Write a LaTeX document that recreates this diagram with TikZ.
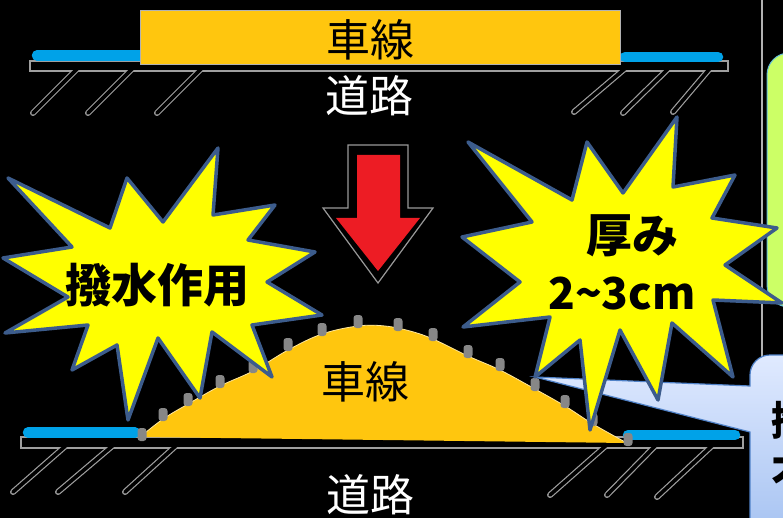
\documentclass[tikz,border=0pt]{standalone}
\usepackage{fontspec}
\setmainfont{Noto Sans CJK JP}
\definecolor{lane}{RGB}{255,198,14}
\definecolor{burst}{RGB}{255,255,0}
\definecolor{burstline}{RGB}{60,92,140}
\definecolor{curb}{RGB}{0,162,232}
\definecolor{arrowred}{RGB}{237,28,36}
\definecolor{noteg}{RGB}{204,255,102}
\definecolor{notegline}{RGB}{100,190,215}
\definecolor{calltop}{RGB}{224,234,255}
\definecolor{callbottom}{RGB}{168,196,242}
\definecolor{callline}{RGB}{80,130,200}
\definecolor{bead}{RGB}{135,135,135}

\begin{document}
\begin{tikzpicture}[x=1pt,y=-1pt,
        hatchedge/.style={draw=gray!75,line width=6pt,line cap=round},
        hatchcore/.style={draw=black,line width=3.6pt,line cap=round},
        curbline/.style={draw=curb,line width=10.5pt,line cap=round},
        burststar/.style={fill=burst,draw=burstline,line width=3.5pt,line join=round},
        roadtext/.style={font=\fontsize{44}{48}\selectfont,inner sep=0pt},
        bursttext/.style={font=\fontsize{46}{50}\selectfont\bfseries,inner sep=0pt,text=black}]
                \useasboundingbox (0,0) rectangle (783,518);
                \clip (0,0) rectangle (783,518);
                \fill[black] (0,0) rectangle (783,518);

                \draw[gray!60,line width=1.2pt] (762,0) -- (762,360);
                \draw[fill=noteg,draw=notegline,line width=1pt,rounded corners=22pt] (767,53) rectangle (830,307);

                \fill[gray!75] (29,60) rectangle (729,72);
                \draw[hatchedge] (80,66) -- (33,113);
                \draw[hatchedge] (135,66) -- (88,113);
                \draw[hatchedge] (204,66) -- (157,113);
                \draw[hatchedge] (628,66) -- (574,112);
                \draw[hatchedge] (671,66) -- (623,113);
                \draw[hatchedge] (712,66) -- (673,112);
                \fill[black] (31,62) rectangle (727,70);
                \draw[hatchcore] (80,66) -- (33,113);
                \draw[hatchcore] (135,66) -- (88,113);
                \draw[hatchcore] (204,66) -- (157,113);
                \draw[hatchcore] (628,66) -- (574,112);
                \draw[hatchcore] (671,66) -- (623,113);
                \draw[hatchcore] (712,66) -- (673,112);

                \draw[curbline] (37,55.5) -- (140,55.5);
                \draw[curbline] (625,57) -- (718,57);
                \draw[fill=lane,draw=gray!60,line width=0.8pt] (140,10) rectangle (620,64);
                \node[roadtext] (laneA) at (370,40) {車線};
                \node[roadtext,text=white] (roadA) at (369,96) {道路};

                \draw[gray!80,line width=1.2pt,fill=black] (348,145) -- (408,145) -- (408,208) -- (433,208)
                        -- (378,283) -- (323,208) -- (348,208) -- cycle;
                \fill[arrowred] (357,155) -- (400,155) -- (400,218) -- (420,218) -- (378,271) -- (336,218)
                        -- (357,218) -- cycle;

                \fill[gray!75] (20,436) rectangle (744,449);
                \draw[hatchedge] (70,442) -- (13,492);
                \draw[hatchedge] (117,442) -- (58,492);
                \draw[hatchedge] (180,442) -- (125,492);
                \draw[hatchedge] (610,442) -- (550,495);
                \draw[hatchedge] (659,442) -- (607,495);
                \draw[hatchedge] (716,442) -- (657,497);
                \fill[black] (22,438) rectangle (742,447);
                \draw[hatchcore] (70,442) -- (13,492);
                \draw[hatchcore] (117,442) -- (58,492);
                \draw[hatchcore] (180,442) -- (125,492);
                \draw[hatchcore] (610,442) -- (550,495);
                \draw[hatchcore] (659,442) -- (607,495);
                \draw[hatchcore] (716,442) -- (657,497);

                \draw[curbline] (28,432.5) -- (135,432.5);
                \draw[curbline] (628,435) -- (735,435);
                \fill[lane] plot[smooth,tension=0.6] coordinates {(140,437) (163,419) (188,404) (220,386)
                        (253,371) (288,350) (322,334) (358,326) (385,326) (410,331) (433,339) (468,356)
                        (500,370) (535,389) (565,406) (593,424) (627,443)} -- cycle;
                \draw[lane!40!white,line width=0.8pt] plot[smooth,tension=0.6] coordinates {(140,437)
                        (163,419) (188,404) (220,386) (253,371) (288,350) (322,334) (358,326) (385,326)
                        (410,331) (433,339) (468,356) (500,370) (535,389) (565,406) (593,424) (627,443)};
                \foreach \x/\y in {142/435,163/415,188/400,220/382,253/367,288/345,322/330,358/322,
                        398/325,433/335,468/352,500/365,535/385,565/402,593/420,628/440}
                        \fill[bead,rounded corners=3pt] (\x-4.5,\y-7) rectangle (\x+4.5,\y+6);
                \node[roadtext] (laneB) at (365,382) {車線};
                \node[roadtext,text=white] (roadB) at (370,495) {道路};

                \coordinate (T) at (535,377);
                \shade[top color=calltop,bottom color=callbottom,draw=callline,line width=1.2pt]
                        (T) -- (750,386) -- (750,375) arc[start angle=180,end angle=270,radius=20]
                        -- (800,355) -- (800,530) -- (750,530) -- (750,432) -- cycle;
                \node[bursttext,font=\fontsize{40}{44}\selectfont\bfseries,anchor=west] (noteA) at (771,420) {撥};
                \node[bursttext,font=\fontsize{40}{44}\selectfont\bfseries,anchor=west] (noteB) at (771,476) {不};

                \draw[burststar] (8,178) -- (110,228) -- (127,178) -- (163,222) -- (218,148) -- (213,215)
                        -- (275,205) -- (248,240) -- (315,252) -- (267,282) -- (322,315) -- (252,325)
                        -- (272,377) -- (212,332) -- (200,398) -- (158,338) -- (128,420) -- (117,345)
                        -- (72,370) -- (88,325) -- (5,333) -- (68,297) -- (3,258) -- (72,247) -- cycle;
                \node[bursttext] (repel) at (157,285) {撥水作用};

                \draw[burststar] (468,142) -- (572,200) -- (587,142) -- (623,193) -- (677,117) -- (673,187)
                        -- (735,175) -- (712,218) -- (777,228) -- (725,265) -- (782,303) -- (713,300)
                        -- (733,377) -- (672,323) -- (658,400) -- (620,330) -- (590,430) -- (580,340)
                        -- (T) -- (550,317) -- (463,327) -- (520,282) -- (462,237) -- (532,222) -- cycle;
                \node[bursttext] (thickA) at (632,236) {厚み};
                \node[bursttext,font=\fontsize{44}{48}\selectfont\bfseries] (thickB) at (622,294) {2\textasciitilde 3cm};
            \end{tikzpicture}
\end{document}
